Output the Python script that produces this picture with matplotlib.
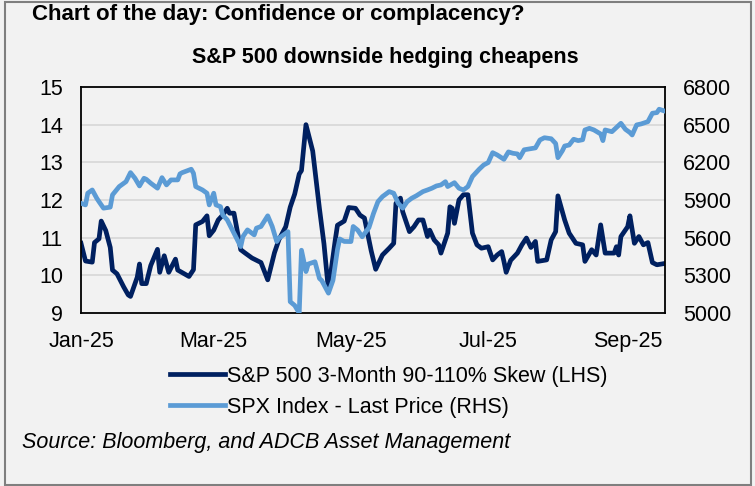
import numpy as np
import pandas as pd
import matplotlib
matplotlib.use('Agg')
import matplotlib.pyplot as plt
import matplotlib.dates as mdates
from matplotlib.patches import Rectangle

plt.rcParams['font.family'] = ['Liberation Sans', 'DejaVu Sans']

# -- data (days since 1 Jan 2025)
skew_day = [0, 2, 5, 6, 8, 9, 11, 13, 14, 16, 19, 21, 22, 25, 26, 27, 29, 31, 34, 35,
            37, 39, 42, 43, 48, 50, 51, 54, 56, 57, 59, 61, 63, 65, 66, 68, 71, 73, 76, 80,
            83, 86, 88, 91, 93, 95, 97, 98, 100, 103, 106, 108, 110, 113, 114, 117, 119, 122, 124, 126,
            129, 131, 134, 137, 139, 140, 142, 143, 146, 148, 150, 152, 154, 155, 157, 159, 160, 163, 164, 165,
            166, 168, 170, 172, 174, 176, 178, 181, 183, 185, 187, 188, 189, 191, 194, 196, 198, 200, 202, 203,
            207, 209, 211, 212, 215, 217, 220, 223, 224, 227, 229, 231, 233, 237, 238, 239, 240, 243, 244, 246,
            248, 250, 252, 254, 256, 260]
skew_val = [10.85, 10.38, 10.35, 10.87, 10.97, 11.44, 11.19, 10.74, 10.14, 10.04, 9.69, 9.48, 9.44, 9.95, 10.30, 9.78, 9.78, 10.26, 10.69, 10.08,
            10.52, 10.08, 10.43, 10.14, 9.97, 10.15, 11.34, 11.43, 11.58, 11.05, 11.20, 11.47, 11.60, 11.78, 11.65, 11.65, 10.68, 10.59, 10.46, 10.34,
            9.88, 10.60, 10.95, 11.29, 11.81, 12.16, 12.69, 12.78, 14.00, 13.30, 11.77, 10.84, 9.60, 10.93, 11.33, 11.44, 11.80, 11.78, 11.60, 11.52,
            10.65, 10.16, 10.54, 10.72, 10.85, 11.91, 12.05, 11.69, 11.16, 11.29, 11.47, 11.47, 11.03, 11.20, 10.94, 10.81, 10.59, 11.12, 11.82, 11.78,
            11.38, 12.00, 12.14, 12.14, 11.12, 10.81, 10.72, 10.76, 10.41, 10.54, 10.63, 10.37, 10.08, 10.40, 10.59, 10.81, 10.99, 10.74, 10.90, 10.37,
            10.41, 10.94, 11.16, 12.11, 11.47, 11.12, 10.85, 10.81, 10.37, 10.68, 10.54, 11.34, 10.59, 10.59, 10.76, 10.54, 11.03, 11.29, 11.58, 10.85,
            11.03, 10.81, 10.87, 10.34, 10.28, 10.32]

spx_day = [0, 2, 3, 5, 7, 8, 10, 13, 14, 17, 20, 22, 24, 26, 28, 29, 31, 34, 36, 38,
           40, 43, 44, 45, 49, 50, 51, 54, 56, 57, 59, 60, 62, 63, 65, 68, 71, 72, 74, 77,
           78, 80, 83, 85, 87, 88, 92, 93, 95, 97, 98, 100, 101, 104, 106, 107, 110, 112, 114, 115,
           117, 120, 121, 123, 125, 128, 130, 132, 134, 137, 139, 141, 143, 145, 147, 149, 152, 154, 156, 158,
           160, 162, 163, 166, 168, 170, 172, 174, 177, 179, 181, 183, 185, 188, 190, 192, 194, 195, 197, 202,
           204, 206, 209, 211, 212, 214, 215, 217, 219, 221, 223, 224, 226, 228, 231, 232, 233, 236, 240, 242,
           244, 245, 247, 249, 252, 254, 256, 257, 259]
spx_val = [5874, 5861, 5954, 5980, 5914, 5887, 5835, 5843, 5941, 6007, 6046, 6118, 6073, 6012, 6073, 6065, 6034, 5994, 6078, 6020,
           6060, 6060, 6108, 6118, 6145, 6113, 6007, 5980, 5954, 5861, 5954, 5861, 5847, 5781, 5742, 5636, 5529, 5609, 5662, 5622,
           5676, 5689, 5774, 5689, 5569, 5596, 5648, 5090, 5060, 5000, 5500, 5330, 5390, 5408, 5275, 5259, 5158, 5260, 5505, 5590,
           5570, 5569, 5689, 5660, 5607, 5680, 5792, 5887, 5927, 5967, 5954, 5874, 5835, 5887, 5914, 5933, 5967, 5980, 5994, 6012,
           6020, 6046, 6007, 6038, 5994, 5980, 6007, 6087, 6145, 6179, 6198, 6277, 6259, 6224, 6283, 6272, 6267, 6237, 6300, 6315,
           6378, 6396, 6388, 6350, 6237, 6293, 6330, 6338, 6384, 6373, 6380, 6458, 6471, 6458, 6426, 6373, 6458, 6444, 6511, 6463,
           6437, 6418, 6498, 6506, 6524, 6591, 6596, 6623, 6611]

start = pd.Timestamp('2025-01-01')
skew_x = start + pd.to_timedelta(skew_day, unit='D')
spx_x = start + pd.to_timedelta(spx_day, unit='D')

dark = '#002060'
light = '#5b9bd5'
bg = '#f2f2f2'
fs = 15.5

fig = plt.figure(figsize=(7.55, 4.86), dpi=100, facecolor=bg)
ax = fig.add_axes([81/755, 1-313/486, 584/755, 226/486])
ax.set_facecolor(bg)
ax2 = ax.twinx()

l1, = ax.plot(skew_x, skew_val, color=dark, lw=3.4, solid_joinstyle='round',
              label='S&P 500 3-Month 90-110% Skew (LHS)')
l2, = ax2.plot(spx_x, spx_val, color=light, lw=3.4, solid_joinstyle='round',
               label='SPX Index - Last Price (RHS)')

ax.set_ylim(9, 15)
ax.set_yticks(range(9, 16))
ax2.set_ylim(5000, 6800)
ax2.set_yticks(range(5000, 6801, 300))
ax.set_xlim(start, start + pd.Timedelta(days=259.6))
ax.set_xticks([pd.Timestamp('2025-%02d-01' % m) for m in (1, 3, 5, 7, 9)])
ax.xaxis.set_major_formatter(mdates.DateFormatter('%b-%y'))

for y in range(10, 15):
    ax.axhline(y, color='#d9d9d9', lw=1.3, zorder=0)

ax.tick_params(axis='both', length=0, labelsize=fs)
ax.tick_params(axis='y', pad=13)
ax.tick_params(axis='x', pad=13)
ax2.tick_params(axis='y', length=0, labelsize=fs, pad=13)
for s in ax.spines.values():
    s.set_color('black')
    s.set_linewidth(1.3)
for s in ax2.spines.values():
    s.set_visible(False)

fig.text(32/755, 1-20/486, 'Chart of the day: Confidence or complacency?',
         fontsize=16, fontweight='bold', va='baseline')
fig.text(385/755, 1-58/486, 'S&P 500 downside hedging cheapens',
         fontsize=fs, fontweight='bold', ha='center', va='center')

fig.legend(handles=[l1, l2], loc='upper left', bbox_to_anchor=(170/755, 1-366/486),
           frameon=False, fontsize=fs, handlelength=2.55, handletextpad=0.1,
           labelspacing=0.45, borderpad=0, borderaxespad=0)

fig.text(22/755, 1-442/486, 'Source: Bloomberg, and ADCB Asset Management',
         fontsize=fs, style='italic', va='center')

fig.patches.append(Rectangle((5/755, 1.5/486), 746/755, 482/486, transform=fig.transFigure,
                             fill=False, ec='#7f7f7f', lw=1.5))

fig.savefig('out.png', dpi=100, facecolor=bg)
